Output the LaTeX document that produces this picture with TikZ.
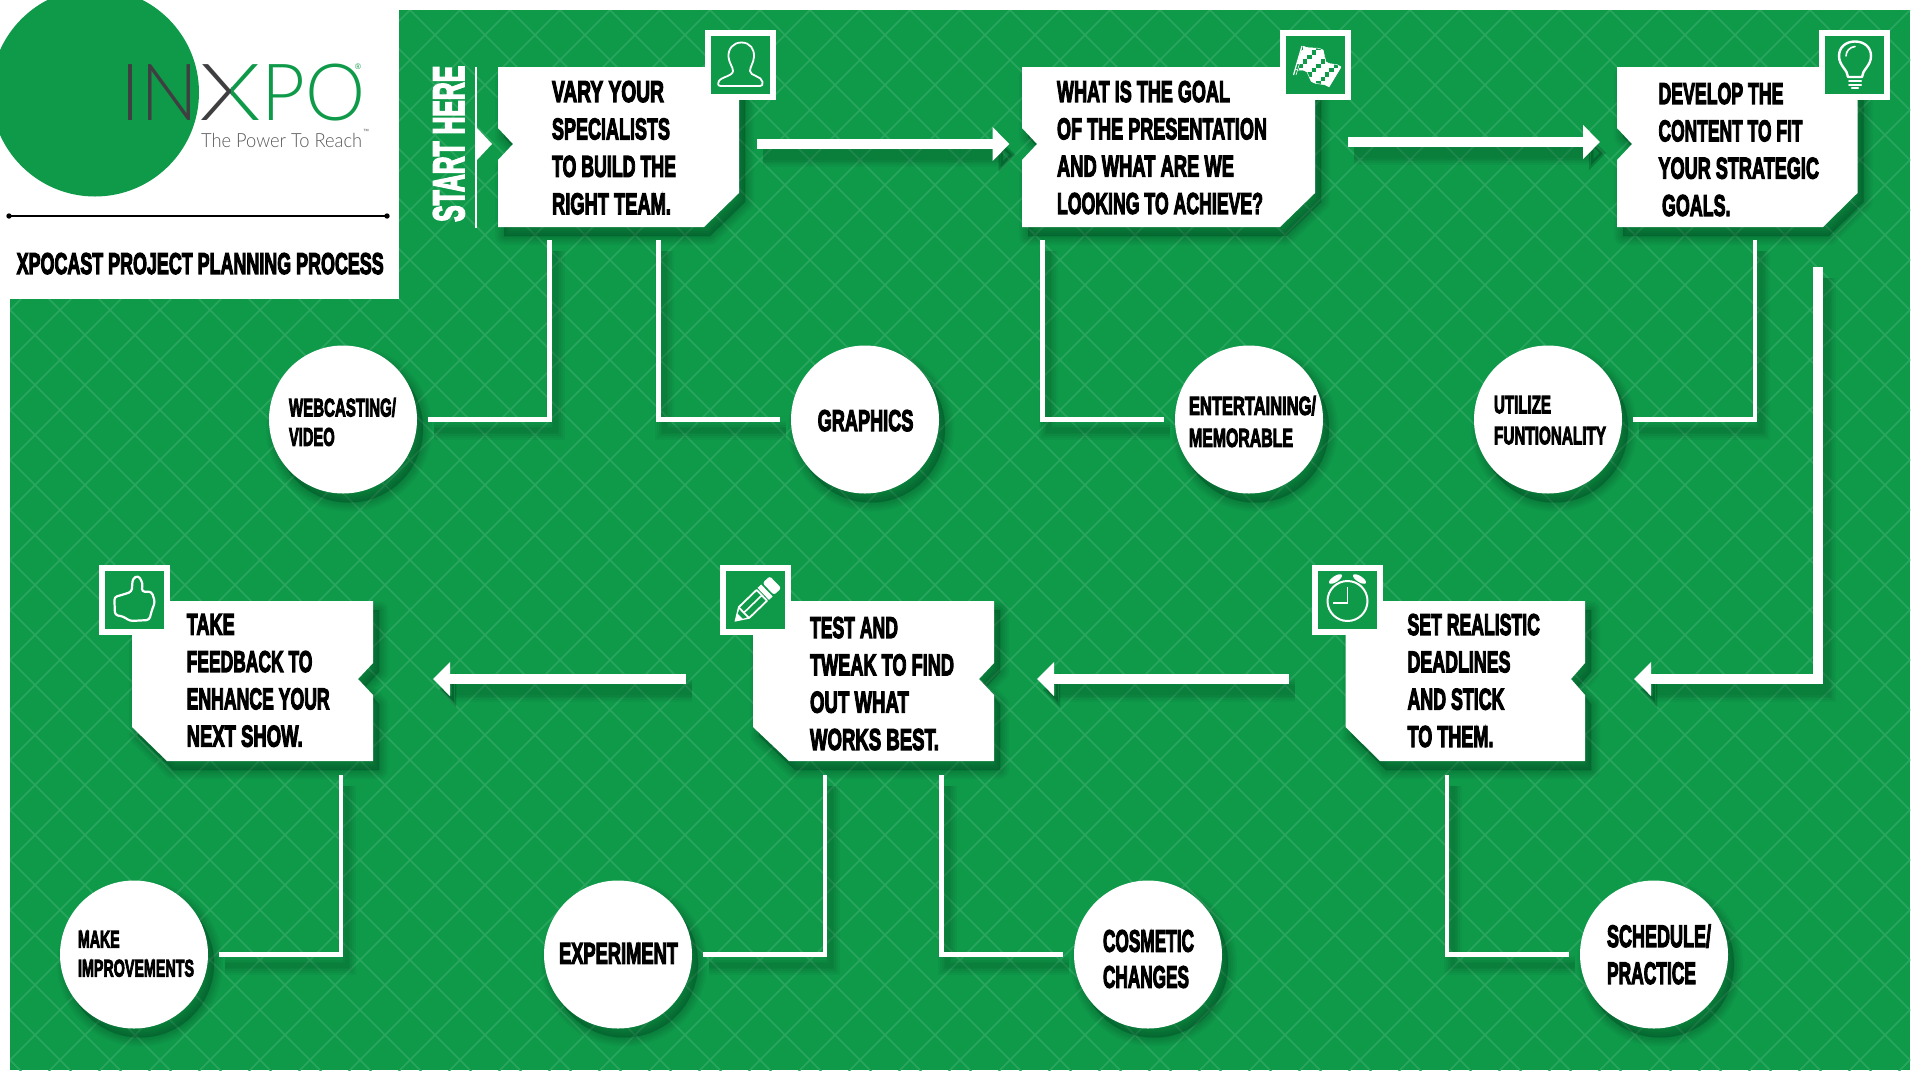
\documentclass[tikz,border=0pt]{standalone}
\usepackage{fontspec}
\usepackage{graphicx}
\usetikzlibrary{arrows.meta}
\newfontfamily\hv{Liberation Sans}[BoldFeatures={FakeBold=4.5}]
\newfontfamily\ltfont{Lato Light}
\definecolor{gr}{HTML}{0F9A4A}
\definecolor{grl}{HTML}{2BA65F}
\definecolor{dk}{HTML}{3F3F41}
\definecolor{tg}{HTML}{58595B}
\pgfdeclarelayer{base}\pgfdeclarelayer{shade}
\pgfsetlayers{base,shade,main}
\newcommand\wl[2]{\resizebox{#1pt}{\height}{#2}}
\newcommand\softfill[1]{\begin{pgfonlayer}{shade}\foreach \e in {18,14,10,6,2}{\draw[black,opacity=.034,line width=\e pt,fill=black,line join=round,transform canvas={shift={(6,9)}}] #1;}\end{pgfonlayer}}
\newcommand\conn[3]{\begin{pgfonlayer}{shade}\foreach \e in {14,10,6,3,0}{\draw[black,opacity=.034,line width=#1pt+\e pt,#2,transform canvas={shift={(6,11)}}] #3;}\end{pgfonlayer}\draw[white,line width=#1pt,#2] #3;}
\newcommand\topshape[4]{(#1,67)--(#2,67)--(#2,193)--(#4,227)--(#1,227)--(#1,160)--(#3,144)--(#1,128)--cycle}
\newcommand\lowshape[4]{(#1,601)--(#2,601)--(#2,663)--(#3,679)--(#2,695)--(#2,761)--(#4,761)--(#1,727)--cycle}
\newcommand\topbox[5]{\softfill{\topshape{#2}{#3}{#4}{#5}}\fill[white]\topshape{#2}{#3}{#4}{#5};
 \pgfmathsetmacro\cx{(#2+#3)/2}\pgfmathsetmacro\bw{#3-#2}
 \node[frm,minimum width=\bw pt,minimum height=160pt,outer ysep=13pt] (#1) at (\cx,147) {};}
\newcommand\lowbox[5]{\softfill{\lowshape{#2}{#3}{#4}{#5}}\fill[white]\lowshape{#2}{#3}{#4}{#5};
 \pgfmathsetmacro\cx{(#2+#3)/2}\pgfmathsetmacro\bw{#3-#2}
 \node[frm,minimum width=\bw pt,minimum height=160pt,outer ysep=14pt] (#1) at (\cx,681) {};}
\newcommand\iconfr[8]{\fill[white] (#1,#3) rectangle (#2,#4); \fill[gr] (#5,#7) rectangle (#6,#8);}
\newcommand\bubble[3]{\softfill{(#2,#3) circle (74pt)}\node[bub] (#1) at (#2,#3) {};}
\tikzset{
 frm/.style={inner sep=0pt,outer xsep=0pt,draw=none},
 bub/.style={circle,fill=white,minimum size=148pt,inner sep=0pt,outer sep=11pt},
 lbl/.style={anchor=north west,inner sep=0pt,outer sep=0pt,align=left,text=black},
 elbow/.style={line join=miter,line cap=butt},
 big/.style={-{Triangle[length=17pt,width=33pt]},line join=miter},
 ic/.style={white,line width=1.8pt,line join=round,line cap=round},
 lat/.style={grl,line width=1.6pt}
}
\begin{document}
\begin{tikzpicture}[x=1pt,y=-1pt]
\useasboundingbox (0,0) rectangle (1920,1080);
\begin{pgfonlayer}{base}
\fill[white] (0,0) rectangle (1920,1080);
\fill[gr] (10,10) rectangle (1910,1070);
\begin{scope}
\clip (10,10) rectangle (1910,1070);
\foreach \k in {-22,...,39}{\draw[lat] (50*\k,0) -- (50*\k+1080,1080);}
\foreach \k in {0,...,61}{\draw[lat] (20+50*\k,0) -- (20+50*\k-1080,1080);}
\end{scope}
\end{pgfonlayer}
% boxes
\topbox{b1}{498}{739}{513}{704}
\topbox{b2}{1022}{1315}{1037}{1280}
\topbox{b3}{1617}{1857.5}{1632}{1823}
\lowbox{b7}{1345.5}{1585}{1571}{1380}
\lowbox{b5}{753}{994}{979}{789}
\lowbox{b8}{132}{373}{358}{167}
% circles
\bubble{c1}{343}{419.5}
\bubble{c2}{865}{419.5}
\bubble{c3}{1249}{419.5}
\bubble{c4}{1548}{419.5}
\bubble{c5}{134}{954.5}
\bubble{c6}{618}{954.5}
\bubble{c7}{1148}{954.5}
\bubble{c8}{1654}{954.5}
% connectors to circles
\conn{4.4}{elbow}{(c1.east) -| ([xshift=-69pt]b1.south)}
\conn{4.4}{elbow}{(c2.west) -| ([xshift=40pt]b1.south)}
\conn{4.4}{elbow}{(c3.west) -| ([xshift=-126pt]b2.south)}
\conn{4.4}{elbow}{(c4.east) -| ([xshift=17.75pt]b3.south)}
\conn{4.4}{elbow}{(c8.west) -| ([xshift=-18pt]b7.south)}
\conn{4.4}{elbow}{(c6.east) -| ([xshift=-48.8pt]b5.south)}
\conn{4.4}{elbow}{(c7.west) -| ([xshift=67.8pt]b5.south)}
\conn{4.4}{elbow}{(c5.east) -| ([xshift=88.2pt]b8.south)}
% main flow
\conn{10}{big,shorten <=18pt,shorten >=12.5pt}{([yshift=3pt]b1.east) -- ([yshift=3pt]b2.west)}
\conn{10}{big,shorten <=33pt,shorten >=17pt}{([yshift=5pt]b2.east) -- ([yshift=5pt]b3.west)}
\conn{10}{big,shorten <=27pt,shorten >=49pt}{([xshift=80.75pt]b3.south) |- ([yshift=2pt]b7.east)}
\conn{10}{big,shorten <=56.5pt,shorten >=43pt}{([yshift=2pt]b7.west) -- ([yshift=2pt]b5.east)}
\conn{10}{big,shorten <=67pt,shorten >=60pt}{([yshift=2pt]b5.west) -- ([yshift=2pt]b8.east)}
% icon frames
\iconfr{705}{776}{30}{100}{711}{770}{36}{94}
\iconfr{1280}{1351}{30}{100}{1286}{1345}{36}{94}
\iconfr{1819}{1890}{30}{100}{1825}{1884}{36}{94}
\iconfr{1312}{1383}{565}{635}{1318}{1377}{571}{629}
\iconfr{720}{791}{565}{635}{726}{785}{571}{629}
\iconfr{99}{170}{565}{635}{105}{164}{571}{629}
% person
\draw[ic] (741.5,42.5) .. controls (750,42.5) and (754.5,49) .. (754,57) .. controls (753.5,63) and (750,67) .. (750,71) .. controls (750,76) and (762,76) .. (762.5,82) .. controls (763,85) and (762,86) .. (760,86) -- (721,86) .. controls (718,86) and (717.5,84) .. (719,81) .. controls (721,77) and (733,76) .. (733,71) .. controls (733,67) and (729,63) .. (728.5,57) .. controls (728,49) and (733,42.5) .. (741.5,42.5) -- cycle;
% flag
\begin{scope}
\clip (1303,46) .. controls (1310,50) and (1316,46) .. (1323,50) -- (1326,62) .. controls (1331,66) and (1336,62) .. (1341,67) -- (1329,87) .. controls (1323,82) and (1317,86) .. (1311,81) -- (1307,72) .. controls (1303,68) and (1299,72) .. (1295,69) -- cycle;
\begin{scope}[shift={(1303,46)},x={(6.6pt,-2.2pt)},y={(2.2pt,-6.6pt)}]
\foreach \i in {-2,...,7}{\foreach \j in {-2,...,7}{
 \pgfmathparse{int(mod(\i+\j+20,2))}
 \ifnum\pgfmathresult=0 \fill[white] (\i,\j) rectangle (\i+1,\j+1);\fi }}
\end{scope}
\end{scope}
\draw[white,line width=.5pt,line join=round] (1303,46) .. controls (1310,50) and (1316,46) .. (1323,50) -- (1326,62) .. controls (1331,66) and (1336,62) .. (1341,67) -- (1329,87) .. controls (1323,82) and (1317,86) .. (1311,81) -- (1307,72) .. controls (1303,68) and (1299,72) .. (1295,69);
\draw[white,line width=1.2pt] (1302,46) -- (1293.5,75);
\draw[white,line width=.6pt] (1304.5,47) -- (1296,75);
% bulb
\draw[white,line width=2.4pt,line join=round] (1848,77) .. controls (1848,70) and (1839,66) .. (1839,56) .. controls (1839,47) and (1846,41.5) .. (1855,41.5) .. controls (1864,41.5) and (1871,47) .. (1871,56) .. controls (1871,66) and (1862,70) .. (1862,77) -- cycle;
\draw[white,line width=1.6pt,line cap=round] (1846,56) .. controls (1846,51) and (1850,47) .. (1855,46.5);
\draw[white,line width=2pt,line cap=round] (1849,81) -- (1861,81);
\draw[white,line width=2pt,line cap=round] (1849,84.5) -- (1861,84.5);
\draw[white,line width=2.4pt,line cap=round] (1852,88) -- (1858,88);
% clock
\draw[white,line width=2pt] (1347.5,601) circle (20pt);
\draw[white,line width=1.8pt,line join=miter] (1347.5,586.5) -- (1347.5,603) -- (1332.5,603);
\fill[white,rotate around={33:(1335.5,579)}] (1335.5,579) ellipse (7.5pt and 3pt);
\fill[white,rotate around={-33:(1359.5,579)}] (1359.5,579) ellipse (7.5pt and 3pt);
% pencil
\begin{scope}[shift={(734.5,621.7)},rotate=44]
\fill[white] (0,0) -- (13,-8.3) -- (13,8.3) -- cycle;
\fill[gr] (8,-3.6) -- (13,-6) -- (13,6) -- (8,3.6) -- cycle;
\draw[white,line width=1.8pt,line join=round] (13,-7.5) -- (38,-7.5) -- (38,7.5) -- (13,7.5) -- cycle;
\draw[white,line width=1.6pt] (13,0) -- (38,0);
\fill[white] (40,-8.3) rectangle (45,8.3);
\fill[white,rounded corners=2.5pt] (47,-8.3) rectangle (57,8.3);
\end{scope}
% thumb
\draw[ic,line width=2.2pt,rounded corners=3pt] (131.7,591.7) -- (132.7,578.6) -- (138.3,575.5) -- (142.7,583) -- (141.7,591.7) -- (151.7,591.7) -- (155,602) -- (151.7,610.7) -- (149.3,620) -- (130,621) -- (123.3,616.5) -- (115,615) -- (114.3,597) -- (123.3,594.5) -- cycle;
% header
\fill[white] (0,0) rectangle (399,299);
\fill[gr] (95,92.5) circle (104pt);
\draw[black,line width=1.6pt] (9,216) -- (387,216);
\fill[black] (9,216) circle (2.7pt) (387,216) circle (2.7pt);
\node[anchor=base west,inner sep=0pt,text=dk,font={\ltfont\fontsize{79}{79}\selectfont}] (logoa) at (120.5,120) {\wl{78}{IN}};
\begin{scope}\clip (190,50) rectangle (231,130);
\node[anchor=base,inner sep=0pt,text=dk,font={\ltfont\fontsize{79}{79}\selectfont}] (logoc) at (230,120) {\wl{62}{X}};\end{scope}
\begin{scope}\clip (231,50) rectangle (270,130);
\node[anchor=base,inner sep=0pt,text=gr,font={\ltfont\fontsize{79}{79}\selectfont}] (logob) at (230,120) {\wl{62}{X}};\end{scope}
\node[anchor=base west,inner sep=0pt,text=gr,font={\ltfont\fontsize{79}{79}\selectfont}] (logod) at (261,120) {\wl{104}{PO}};
\node[anchor=center,inner sep=0pt,text=gr,font={\hv\fontsize{8}{8}\selectfont}] (reg) at (358,67) {®};
\node[anchor=base west,inner sep=0pt,text=tg,font={\ltfont\fontsize{19.5}{20}\selectfont}] (tag) at (201,147) {\wl{161}{The Power To Reach}};
\node[anchor=center,inner sep=0pt,text=tg,font={\hv\fontsize{6}{6}\selectfont}] (tm) at (366,131) {™};
\node[lbl,font={\hv\bfseries\fontsize{30}{30}\selectfont}] (title) at (16.7,253) {\wl{367}{XPOCAST PROJECT PLANNING PROCESS}};
% start here
\node[rotate=90,anchor=base west,inner sep=0pt,text=white,font={\hv\bfseries\fontsize{44}{44}\selectfont}] (start) at (464,222) {\wl{156}{START HERE}};
\draw[white,line width=2pt] (476,67) -- (476,228);
\fill[white] (477,128) -- (492,144) -- (477,160) -- cycle;
% box text
\node[lbl,font={\hv\bfseries\fontsize{30}{37.4}\selectfont}] (t1) at (552,81) {\wl{112}{VARY YOUR}\\\wl{118}{SPECIALISTS}\\\wl{124}{TO BUILD THE}\\\wl{119}{RIGHT TEAM.}};
\node[lbl,font={\hv\bfseries\fontsize{30}{37.3}\selectfont}] (t2) at (1057,81) {\wl{173}{WHAT IS THE GOAL}\\\wl{210}{OF THE PRESENTATION}\\\wl{177}{AND WHAT ARE WE}\\\wl{206}{LOOKING TO ACHIEVE?}};
\node[lbl,font={\hv\bfseries\fontsize{30}{37.3}\selectfont}] (t3) at (1658.5,83) {\wl{125}{DEVELOP THE}\\\wl{144}{CONTENT TO FIT}\\\wl{160.5}{YOUR STRATEGIC}\\\hspace*{3.5pt}\wl{68.5}{GOALS.}};
\node[lbl,font={\hv\bfseries\fontsize{30}{37.3}\selectfont}] (t7) at (1407.5,614) {\wl{132.4}{SET REALISTIC}\\\wl{103}{DEADLINES}\\\wl{97}{AND STICK}\\\wl{86}{TO THEM.}};
\node[lbl,font={\hv\bfseries\fontsize{30}{37.3}\selectfont}] (t5) at (810,617) {\wl{88}{TEST AND}\\\wl{144}{TWEAK TO FIND}\\\wl{99}{OUT WHAT}\\\wl{129}{WORKS BEST.}};
\node[lbl,font={\hv\bfseries\fontsize{30}{37.3}\selectfont}] (t8) at (186.7,614) {\wl{48}{TAKE}\\\wl{125.7}{FEEDBACK TO}\\\wl{143}{ENHANCE YOUR}\\\wl{116}{NEXT SHOW.}};
% circle text
\node[lbl,font={\hv\bfseries\fontsize{25.4}{29.3}\selectfont}] (d1) at (289,398) {\wl{107}{WEBCASTING/}\\\wl{45.7}{VIDEO}};
\node[lbl,font={\hv\bfseries\fontsize{30}{30}\selectfont}] (d2) at (817.7,410) {\wl{95.7}{GRAPHICS}};
\node[lbl,font={\hv\bfseries\fontsize{26}{32}\selectfont}] (d3) at (1189,396) {\wl{127}{ENTERTAINING/}\\\wl{104}{MEMORABLE}};
\node[lbl,font={\hv\bfseries\fontsize{25}{31}\selectfont}] (d4) at (1494,396) {\wl{57}{UTILIZE}\\\wl{112}{FUNTIONALITY}};
\node[lbl,font={\hv\bfseries\fontsize{24}{29}\selectfont}] (d5) at (78,931) {\wl{41.7}{MAKE}\\\wl{116}{IMPROVEMENTS}};
\node[lbl,font={\hv\bfseries\fontsize{30}{30}\selectfont}] (d6) at (559,943) {\wl{119}{EXPERIMENT}};
\node[lbl,font={\hv\bfseries\fontsize{31}{36}\selectfont}] (d7) at (1103,930) {\wl{91}{COSMETIC}\\\wl{86}{CHANGES}};
\node[lbl,font={\hv\bfseries\fontsize{31}{37}\selectfont}] (d8) at (1607,924.5) {\wl{104}{SCHEDULE/}\\\wl{89}{PRACTICE}};
\end{tikzpicture}
\end{document}
